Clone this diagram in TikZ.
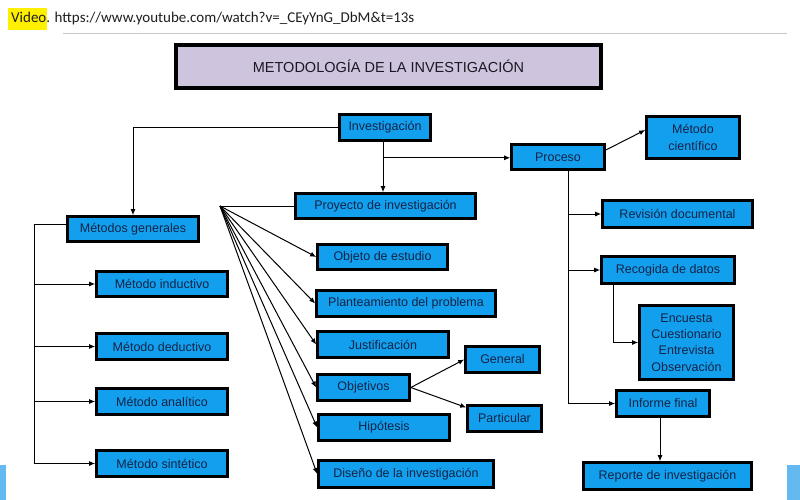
\documentclass[tikz,border=0pt]{standalone}
\usepackage{fontspec}
\setmainfont{Liberation Sans}
\newfontfamily\calib{Carlito}
\usetikzlibrary{arrows.meta,calc}
\definecolor{boxblue}{RGB}{18,160,238}
\definecolor{navytxt}{RGB}{20,35,70}
\definecolor{lav}{RGB}{207,196,222}
\definecolor{hl}{RGB}{255,240,0}
\definecolor{frag}{RGB}{100,185,240}
\definecolor{hdrtxt}{RGB}{30,30,30}
\definecolor{rule}{RGB}{200,200,200}
\definecolor{titletxt}{RGB}{25,25,35}
\tikzset{
  bx/.style={draw=black, line width=2.6pt, fill=boxblue, text=navytxt,
    font=\fontsize{12.5}{16.3}\selectfont, inner sep=0pt, align=center},
  arr/.style={line width=1pt, -{Latex[length=6pt,width=5pt]}},
  ln/.style={line width=1pt},
}
\begin{document}
\begin{tikzpicture}[x=1pt,y=-1pt]
\useasboundingbox (0,0) rectangle (800,500);
% header
\fill[hl] (8,8) rectangle (47,30);
\node[anchor=west, inner sep=0pt, font=\calib\fontsize{15}{18}\selectfont, text=hdrtxt] (hdr) at (11,19) {Video. https://www.youtube.com/watch?v=\_CEyYnG\_DbM\&t=13s};
\draw[line width=0.8pt, rule] (63,33) -- (787,33);
% screen fragments
\fill[frag] (0,465) rectangle (6,500);
\fill[frag] (787,465) rectangle (800,500);
% title
\node[draw=black, line width=4.5pt, fill=lav, text=titletxt, minimum width=425pt, minimum height=43pt, inner sep=0pt, font=\fontsize{14.5}{17}\selectfont] (title) at (388.5,66.5) {METODOLOGÍA DE LA INVESTIGACIÓN};
% boxes
\node[bx, minimum width=91pt, minimum height=26pt] (inv) at (385,127.5) {Investigación};
\node[bx, minimum width=93pt, minimum height=25pt] (proc) at (558,157) {Proceso};
\node[bx, minimum width=93pt, minimum height=42pt] (mcien) at (693,137.5) {Método\\científico};
\node[bx, minimum width=180pt, minimum height=25pt] (proy) at (385.5,206) {Proyecto de investigación};
\node[bx, minimum width=131pt, minimum height=25pt] (mgen) at (133,229) {Métodos generales};
\node[bx, minimum width=150pt, minimum height=27pt] (rev) at (677.5,214) {Revisión documental};
\node[bx, minimum width=130pt, minimum height=25pt] (obj) at (382.5,257) {Objeto de estudio};
\node[bx, minimum width=133pt, minimum height=27pt] (rec) at (668,270) {Recogida de datos};
\node[bx, minimum width=131pt, minimum height=25pt] (mind) at (162,284) {Método inductivo};
\node[bx, minimum width=179pt, minimum height=26pt] (plan) at (406,303.5) {Planteamiento del problema};
\node[bx, minimum width=94pt, minimum height=74pt] (enc) at (686.5,342.5) {Encuesta\\Cuestionario\\Entrevista\\Observación};
\node[bx, minimum width=131pt, minimum height=26pt] (just) at (383,344.5) {Justificación};
\node[bx, minimum width=131pt, minimum height=26pt] (mded) at (162,346.5) {Método deductivo};
\node[bx, minimum width=74pt, minimum height=26pt] (gen) at (502.5,359.5) {General};
\node[bx, minimum width=92pt, minimum height=26pt] (objv) at (363.5,387.5) {Objetivos};
\node[bx, minimum width=131pt, minimum height=26pt] (mana) at (162,401.5) {Método analítico};
\node[bx, minimum width=93pt, minimum height=26pt] (inf) at (663,403.5) {Informe final};
\node[bx, minimum width=74pt, minimum height=26pt] (part) at (504.5,418.5) {Particular};
\node[bx, minimum width=131pt, minimum height=26pt] (hip) at (384,427.5) {Hipótesis};
\node[bx, minimum width=131pt, minimum height=26pt] (msin) at (162,463.5) {Método sintético};
\node[bx, minimum width=175pt, minimum height=27pt] (dis) at (406,474) {Diseño de la investigación};
\node[bx, minimum width=168pt, minimum height=27pt] (rep) at (667.5,476) {Reporte de investigación};
% connectors from Investigación
\draw[arr] (inv.west) -| (mgen.north);
\coordinate (ix) at ([xshift=-2pt]inv.south);
\draw[arr] (ix) -- (ix |- proy.north);
\coordinate (j1) at ($(ix)+(0,16)$);
\draw[arr] (j1) -- (j1 -| proc.west);
% Proceso
\draw[arr] ([yshift=7pt]proc.east) -- ([yshift=7.5pt]mcien.west);
\coordinate (ps) at ([xshift=10pt]proc.south);
\draw[arr] (ps) |- (inf.west);
\draw[arr] (ps |- rev.west) -- (rev.west);
\draw[arr] (ps |- rec.west) -- (rec.west);
\draw[arr] ([xshift=13pt]rec.south west) |- (enc.west);
\coordinate (fx) at ([xshift=-3pt]inf.south);
\draw[arr] (fx) -- (fx |- rep.north);
% fan from Proyecto
\coordinate (fan) at (220,206);
\draw[ln] (proy.west) -- (fan);
\foreach \t in {obj,plan,just,objv,hip,dis} {\draw[arr] (fan) -- (\t.west);}
% Objetivos
\draw[arr] (objv.east) -- (gen.west);
\draw[arr] (objv.east) -- ([yshift=11pt]part.west);
% Métodos generales
\coordinate (lv) at (34,464);
\draw[ln] ([yshift=5pt]mgen.west) -- ([yshift=5pt]mgen.west -| lv) -- (lv);
\foreach \t in {mind,mded,mana,msin} {\draw[arr] (lv |- \t.west) -- (\t.west);}
\end{tikzpicture}
\end{document}
